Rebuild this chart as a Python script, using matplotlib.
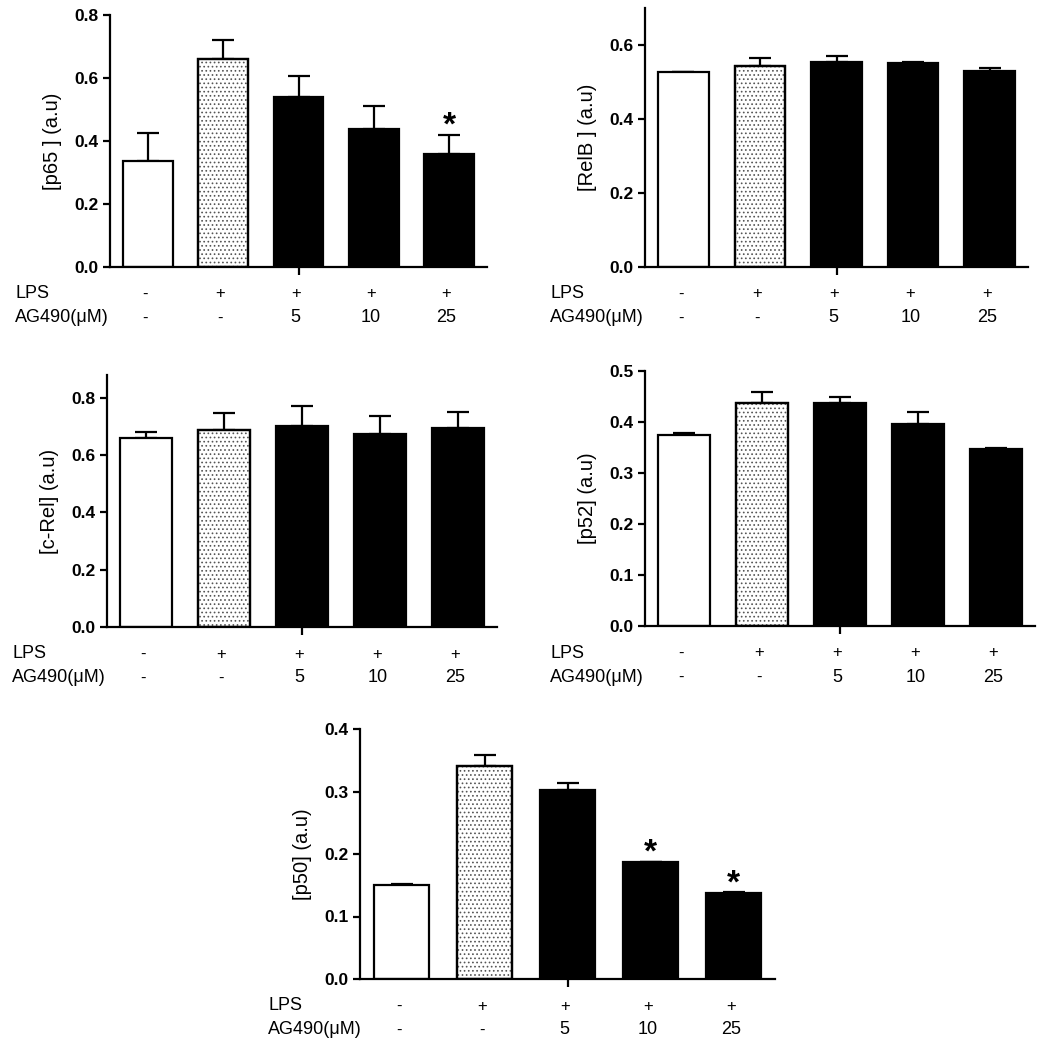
import numpy as np
import matplotlib
matplotlib.use("Agg")
import matplotlib.pyplot as plt
from matplotlib.ticker import FormatStrFormatter

plt.rcParams["font.family"] = ["Liberation Sans", "DejaVu Sans"]
plt.rcParams["hatch.linewidth"] = 0.7

# treatment rows under each panel
lps_labels = ["-", "+", "+", "+", "+"]
ag490_labels = ["-", "-", "5", "10", "25"]

# mean and upper SEM
p65_mean = [0.335, 0.660, 0.540, 0.438, 0.359]
p65_err = [0.090, 0.062, 0.066, 0.073, 0.060]
relb_mean = [0.526, 0.544, 0.554, 0.552, 0.530]
relb_err = [0.002, 0.020, 0.016, 0.001, 0.009]
crel_mean = [0.661, 0.689, 0.702, 0.675, 0.695]
crel_err = [0.020, 0.059, 0.070, 0.063, 0.056]
p52_mean = [0.375, 0.437, 0.437, 0.397, 0.348]
p52_err = [0.003, 0.021, 0.012, 0.023, 0.001]
p50_mean = [0.150, 0.341, 0.302, 0.187, 0.137]
p50_err = [0.002, 0.018, 0.012, 0.001, 0.002]

# indices marked with *
p65_sig = [4]
p50_sig = [3, 4]

W, H = 1045, 1050


def px_axes(fig, x0, x1, y0, y1):
    """axes from pixel box (top-left origin)"""
    return fig.add_axes([x0 / W, 1 - y1 / H, (x1 - x0) / W, (y1 - y0) / H])


def draw_panel(ax, means, errs, ylabel, ytop, ystep, sig=(), lab_pad=95):
    x = np.arange(len(means))
    face = ["white", "white", "black", "black", "black"]
    hatch = [None, "....", None, None, None]
    ax.errorbar(x, means, yerr=[np.zeros(len(errs)), errs], fmt="none",
                ecolor="black", elinewidth=1.6, capsize=8, capthick=1.6, zorder=1)
    for i in x:
        ax.bar(i, means[i], width=0.66, color=face[i], edgecolor="black",
               linewidth=1.6, zorder=2)
        if hatch[i]:
            # dots in grey, border kept black on top
            ax.bar(i, means[i], width=0.66, color="none", edgecolor="#555555",
                   linewidth=0, hatch=hatch[i], zorder=2.1)
            ax.bar(i, means[i], width=0.66, color="none", edgecolor="black",
                   linewidth=1.6, zorder=2.2)
    for i in sig:
        ax.annotate("*", xy=(i, means[i] + errs[i]), xytext=(0, 0),
                    textcoords="offset points", ha="center", va="baseline",
                    fontsize=24, fontweight="bold")

    ax.set_xlim(-0.5, 4.5)
    ax.set_ylim(0, ytop)
    ax.set_yticks(np.arange(0, ytop + 1e-9, ystep))
    ax.yaxis.set_major_formatter(FormatStrFormatter("%.1f"))
    for s in ["top", "right"]:
        ax.spines[s].set_visible(False)
    for s in ["left", "bottom"]:
        ax.spines[s].set_linewidth(1.6)
    ax.tick_params(axis="y", length=5, width=1.6, labelsize=12.5, pad=3)
    for t in ax.get_yticklabels():
        t.set_fontweight("bold")
    ax.set_xticks([2])
    ax.set_xticklabels([""])
    ax.tick_params(axis="x", length=6, width=1.6)
    ax.set_ylabel(ylabel, fontsize=14.5, labelpad=9)

    # treatment table below the axis
    rows = [("LPS", lps_labels, -27), ("AG490(\u03bcM)", ag490_labels, -51)]
    for name, labels, dy in rows:
        ax.annotate(name, xy=(0, 0), xycoords="axes fraction",
                    xytext=(-lab_pad * 0.72, dy * 0.72), textcoords="offset points",
                    ha="left", va="center", fontsize=13)
        for i, lab in enumerate(labels):
            size = 13 if lab not in ("-", "+") else 12
            ax.annotate(lab, xy=(i, 0), xycoords=("data", "axes fraction"),
                        xytext=(-2, dy * 0.72), textcoords="offset points",
                        ha="center", va="center", fontsize=size)


fig = plt.figure(figsize=(W / 100, H / 100), dpi=100)

ax1 = px_axes(fig, 110, 487, 15, 267)
draw_panel(ax1, p65_mean, p65_err, "[p65 ] (a.u)", 0.8, 0.2, sig=p65_sig)

ax2 = px_axes(fig, 645, 1028, 8, 267)
draw_panel(ax2, relb_mean, relb_err, "[RelB ] (a.u)", 0.7, 0.2)

ax3 = px_axes(fig, 107, 497, 375, 627)
draw_panel(ax3, crel_mean, crel_err, "[c-Rel] (a.u)", 0.88, 0.2)

ax4 = px_axes(fig, 645, 1035, 371, 626)
draw_panel(ax4, p52_mean, p52_err, "[p52] (a.u)", 0.5, 0.1)

ax5 = px_axes(fig, 360, 775, 729, 979)
draw_panel(ax5, p50_mean, p50_err, "[p50] (a.u)", 0.4, 0.1, sig=p50_sig, lab_pad=92)

fig.savefig("out.png", dpi=100, facecolor="white")
